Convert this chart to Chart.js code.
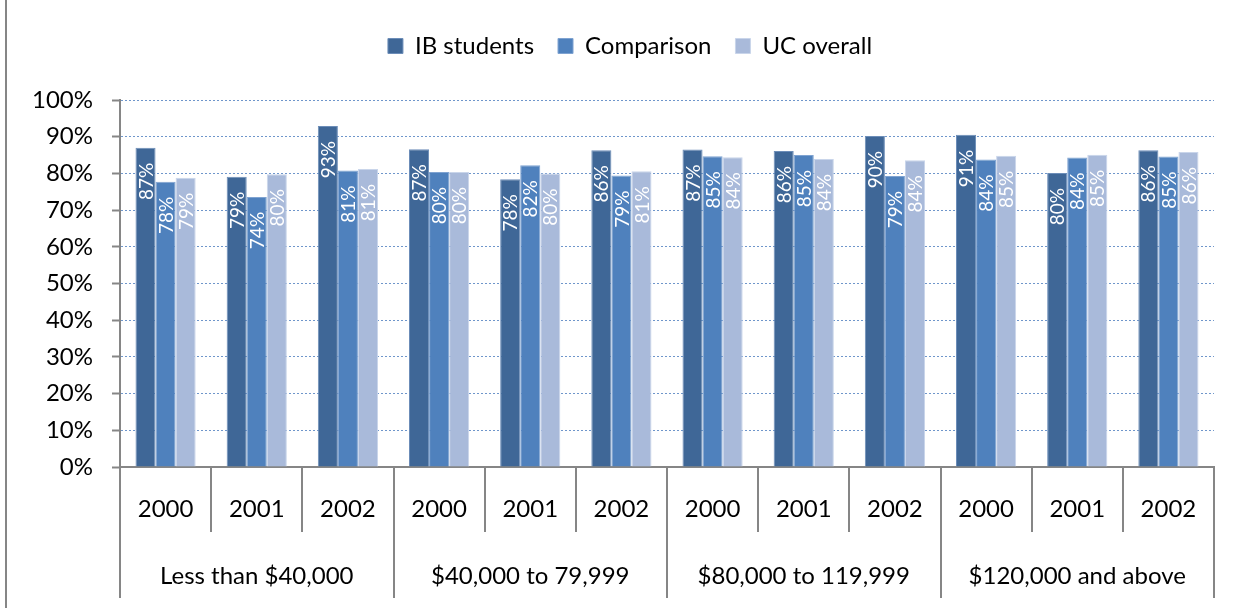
<!DOCTYPE html>
<html>
<head>
<meta charset="utf-8">
<script src="https://cdn.jsdelivr.net/npm/chart.js@4.4.1/dist/chart.umd.min.js"></script>
<style>
  html, body { margin: 0; padding: 0; background: #fff; }
  #wrap { width: 1239px; height: 608px; }
</style>
</head>
<body>
<div id="wrap"><canvas id="chart"></canvas></div>
<script>
// data
const years = ['2000', '2001', '2002', '2000', '2001', '2002', '2000', '2001', '2002', '2000', '2001', '2002']
const incomeGroups = ['Less than $40,000', '$40,000 to 79,999', '$80,000 to 119,999', '$120,000 and above']
const ibStudents = [87.0, 79.1, 92.9, 86.6, 78.4, 86.3, 86.5, 86.1, 90.2, 90.5, 80.1, 86.3]
const comparison = [77.7, 73.6, 80.8, 80.4, 82.2, 79.4, 84.7, 85.0, 79.3, 83.8, 84.3, 84.6]
const ucOverall = [78.8, 79.8, 81.2, 80.4, 80.0, 80.6, 84.4, 83.9, 83.6, 84.8, 85.1, 85.8]
const yTicks = [0, 10, 20, 30, 40, 50, 60, 70, 80, 90, 100]

const FONT = 'Lato'
const axisGray = '#868686'

// white rotated value labels inside the bar tops
const barLabels = {
  id: 'barLabels',
  afterDatasetsDraw(chart) {
    const ctx = chart.ctx
    ctx.save()
    ctx.fillStyle = '#ffffff'
    ctx.font = '19px ' + FONT
    ctx.textAlign = 'right'
    ctx.textBaseline = 'middle'
    chart.data.datasets.forEach((ds, i) => {
      chart.getDatasetMeta(i).data.forEach((bar, j) => {
        ctx.save()
        ctx.translate(bar.x + 1, bar.y + 15)
        ctx.rotate(-Math.PI / 2)
        ctx.fillText(Math.round(ds.data[j]) + '%', 0, 0)
        ctx.restore()
      })
    })
    ctx.restore()
  }
}

// left edge of the chart frame + extra room under the legend
const frame = {
  id: 'frame',
  beforeInit(chart) {
    const fit = chart.legend.fit
    chart.legend.fit = function () {
      fit.bind(chart.legend)()
      this.height += 32
    }
  },
  afterUpdate(chart) {
    // nudge the legend row a little to the right, like the original
    chart.legend.left += 36
  },
  beforeDraw(chart) {
    const ctx = chart.ctx
    ctx.save()
    ctx.strokeStyle = axisGray
    ctx.lineWidth = 2
    ctx.beginPath()
    ctx.moveTo(6, 0)
    ctx.lineTo(6, chart.height)
    ctx.stroke()
    ctx.restore()
  }
}

const ctx = document.querySelector('#chart')
new Chart(ctx, {
  type: 'bar',
  data: {
    labels: years,
    datasets: [
      { label: 'IB students', data: ibStudents, backgroundColor: '#3F6797', borderColor: '#6C8DB8', borderWidth: 1 },
      { label: 'Comparison', data: comparison, backgroundColor: '#4F81BD', borderColor: '#7FA3D1', borderWidth: 1 },
      { label: 'UC overall', data: ucOverall, backgroundColor: '#A9BADA', borderColor: '#C9D5EA', borderWidth: 1 }
    ]
  },
  plugins: [frame, barLabels],
  options: {
    responsive: true,
    maintainAspectRatio: false,
    animation: false,
    layout: { padding: { left: 10, right: 25, top: 10, bottom: 10 } },
    datasets: { bar: { categoryPercentage: 0.66, barPercentage: 1.0 } },
    plugins: {
      tooltip: { enabled: false },
      legend: {
        position: 'top',
        align: 'center',
        labels: {
          color: '#000',
          font: { family: FONT, size: 24 },
          boxWidth: 15,
          boxHeight: 15,
          padding: 24
        }
      }
    },
    scales: {
      y: {
        min: 0,
        max: 100,
        afterFit: (s) => { s.width = 110 },
        afterBuildTicks: (s) => { s.ticks = yTicks.map(v => ({ value: v })) },
        ticks: {
          color: '#000',
          font: { family: FONT, size: 24 },
          padding: 19,
          callback: (v) => v + '%'
        },
        grid: { color: '#6F96CB', tickColor: axisGray, tickLength: 8, lineWidth: 1, tickWidth: 2 },
        border: { color: axisGray, width: 2, dash: [2, 2] }
      },
      x: {
        position: 'bottom',
        afterFit: (s) => { s.height = 65 },
        ticks: {
          color: '#000',
          font: { family: FONT, size: 24 },
          padding: -37,
          maxRotation: 0,
          autoSkip: false
        },
        grid: { offset: true, drawOnChartArea: false, color: axisGray, lineWidth: 2, tickLength: 65 },
        border: { color: axisGray, width: 2 }
      },
      x2: {
        type: 'category',
        labels: incomeGroups,
        position: 'bottom',
        offset: true,
        afterFit: (s) => { s.height = 66 },
        ticks: {
          color: '#000',
          font: { family: FONT, size: 24 },
          padding: -36,
          maxRotation: 0,
          autoSkip: false
        },
        grid: { offset: true, drawOnChartArea: false, color: axisGray, lineWidth: 2, tickLength: 66 },
        border: { display: false }
      }
    }
  }
})
</script>
</body>
</html>
